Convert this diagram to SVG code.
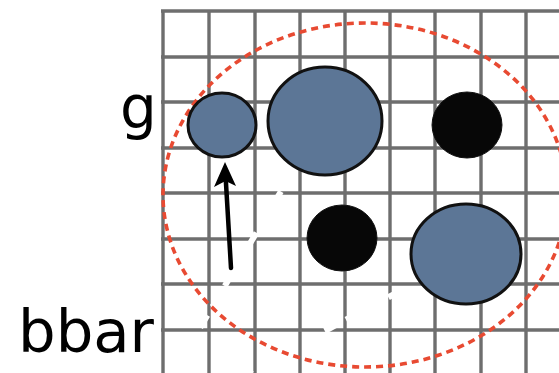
<svg xmlns="http://www.w3.org/2000/svg" width="559" height="373" viewBox="0 0 559 373">
<defs>
<style>
.grid line{stroke:#6e6e6e;stroke-width:3.4}
.gap{stroke:#ffffff;stroke-width:6;stroke-dasharray:14 10;fill:none}
.ring{fill:none;stroke:#e84a32;stroke-width:3.6;stroke-dasharray:7 5}
.blue{fill:#5c7696;stroke:#111;stroke-width:3}
.black{fill:#070707;stroke:#111;stroke-width:1}
.lbl{font-family:"DejaVu Sans",sans-serif;font-size:58px;fill:#000}
</style>
</defs>
<rect width="559" height="373" fill="#fff"/>
<g class="grid" id="grid">
<line x1="163" y1="10" x2="163" y2="373"/>
<line x1="209" y1="10" x2="209" y2="373"/>
<line x1="255" y1="10" x2="255" y2="373"/>
<line x1="300" y1="10" x2="300" y2="373"/>
<line x1="345" y1="10" x2="345" y2="373"/>
<line x1="390" y1="10" x2="390" y2="373"/>
<line x1="435" y1="10" x2="435" y2="373"/>
<line x1="481" y1="10" x2="481" y2="373"/>
<line x1="526" y1="10" x2="526" y2="373"/>
<line x1="161" y1="11" x2="559" y2="11"/>
<line x1="161" y1="57" x2="559" y2="57"/>
<line x1="161" y1="102" x2="559" y2="102"/>
<line x1="161" y1="148" x2="559" y2="148"/>
<line x1="161" y1="193" x2="559" y2="193"/>
<line x1="161" y1="239" x2="559" y2="239"/>
<line x1="161" y1="284" x2="559" y2="284"/>
<line x1="161" y1="330" x2="559" y2="330"/>
</g>
<g id="connectors">
<line class="gap" x1="188" y1="348" x2="283" y2="188"/>
<line class="gap" x1="240" y1="376" x2="402" y2="290"/>
<g id="arrow">
<line x1="231" y1="268" x2="225.8" y2="180" stroke="#000" stroke-width="4.5" stroke-linecap="round"/>
<polygon points="225,162 236,186 225.5,181 214,187" fill="#000"/>
</g>
</g>
<g id="region"><ellipse class="ring" cx="365" cy="195" rx="202" ry="172"/></g>
<g id="n1"><ellipse class="blue" cx="222" cy="125" rx="34" ry="32"/></g>
<g id="n2"><ellipse class="blue" cx="325" cy="121" rx="57" ry="54"/></g>
<g id="n3"><ellipse class="black" cx="467" cy="125" rx="35" ry="33"/></g>
<g id="n4"><ellipse class="black" cx="342" cy="238" rx="35" ry="33"/></g>
<g id="n5"><ellipse class="blue" cx="466" cy="254" rx="55" ry="50"/></g>
<g id="label-g"><text class="lbl" x="120" y="128">g</text></g>
<g id="label-bbar"><text class="lbl" x="18" y="352" textLength="136" lengthAdjust="spacingAndGlyphs">bbar</text></g>
</svg>
